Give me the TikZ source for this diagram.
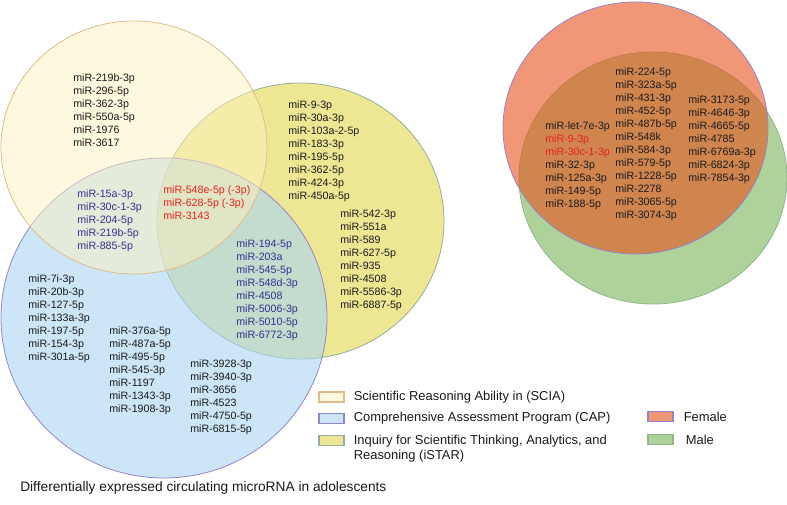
\documentclass[tikz,border=0pt]{standalone}
\usepackage{fontspec}
\setmainfont{Liberation Sans}
\usetikzlibrary{positioning}
\definecolor{sciafill}{HTML}{FDF1BF}
\definecolor{sciadraw}{HTML}{E0BC8A}
\definecolor{capfill}{HTML}{AAD5F3}
\definecolor{capdraw}{HTML}{9484CC}
\definecolor{istarfill}{HTML}{EDE794}
\definecolor{istardraw}{HTML}{93AE9C}
\definecolor{femalefill}{HTML}{E8521E}
\definecolor{femaledraw}{HTML}{9484CC}
\definecolor{malefill}{HTML}{AED39A}
\definecolor{maledraw}{HTML}{92B58A}
\definecolor{mirred}{HTML}{E82020}
\definecolor{mirblue}{HTML}{34308F}
\newcommand*\mirsize{\fontsize{8}{9.75}\selectfont}
\newcommand*\keysize{\fontsize{9.7}{11.25}\selectfont}
\newcommand*\captionsize{\fontsize{10.3}{12}\selectfont}
\newcommand*\redmir[1]{\textcolor{mirred}{#1}}

\begin{document}
\begin{tikzpicture}[x=0.75pt,y=-0.75pt,
		mirlist/.style={anchor=north west,align=left,inner sep=0pt,font=\mirsize,text=black!90},
		keybox/.style={shape=rectangle,minimum width=18.75pt,minimum height=7.5pt,inner sep=0pt,line width=0.8pt},
		keytext/.style={anchor=west,align=left,inner sep=0pt,font=\keysize,text=black!90},
		ring/.style={line width=0.6pt}]
					\useasboundingbox (0,0) rectangle (787,505);
					
					\draw[ring,fill=istarfill,draw=istardraw] (300.5,221) ellipse [x radius=143.5,y radius=138];
					\draw[ring,fill=capfill,fill opacity=0.6,draw=capdraw] (164,318) ellipse [x radius=163,y radius=160];
					\draw[ring,fill=sciafill,fill opacity=0.5,draw=sciadraw] (134,147.5) ellipse [x radius=133,y radius=126.5];
					
					\draw[ring,fill=malefill,draw=maledraw] (653,178) ellipse [x radius=134,y radius=126];
					\draw[ring,fill=femalefill,fill opacity=0.6,draw=femaledraw] (635.5,128) ellipse [x radius=132.5,y radius=126];
					
					\node[mirlist] (sciaonly) at (73,74) {miR-219b-3p\\miR-296-5p\\miR-362-3p\\miR-550a-5p\\miR-1976\\miR-3617};
					\node[mirlist] (istarfirst) at (288,101) {miR-9-3p\\miR-30a-3p\\miR-103a-2-5p\\miR-183-3p\\miR-195-5p\\miR-362-5p\\miR-424-3p\\miR-450a-5p};
					\node[mirlist] (istarsecond) at (340,210) {miR-542-3p\\miR-551a\\miR-589\\miR-627-5p\\miR-935\\miR-4508\\miR-5586-3p\\miR-6887-5p};
					\node[mirlist,text=mirblue] (sciacap) at (77,190) {miR-15a-3p\\miR-30c-1-3p\\miR-204-5p\\miR-219b-5p\\miR-885-5p};
					\node[mirlist,text=mirred] (allthree) at (163,186) {miR-548e-5p (-3p)\\miR-628-5p (-3p)\\miR-3143};
					\node[mirlist,text=mirblue] (capistar) at (236,240) {miR-194-5p\\miR-203a\\miR-545-5p\\miR-548d-3p\\miR-4508\\miR-5006-3p\\miR-5010-5p\\miR-6772-3p};
					\node[mirlist] (capfirst) at (28,275) {miR-7i-3p\\miR-20b-3p\\miR-127-5p\\miR-133a-3p\\miR-197-5p\\miR-154-3p\\miR-301a-5p};
					\node[mirlist] (capsecond) at (109,327) {miR-376a-5p\\miR-487a-5p\\miR-495-5p\\miR-545-3p\\miR-1197\\miR-1343-3p\\miR-1908-3p};
					\node[mirlist] (capthird) at (190,360) {miR-3928-3p\\miR-3940-3p\\miR-3656\\miR-4523\\miR-4750-5p\\miR-6815-5p};
					
					\node[mirlist] (bothfirst) at (545,122) {miR-let-7e-3p\\\redmir{miR-9-3p}\\\redmir{miR-30c-1-3p}\\miR-32-3p\\miR-125a-3p\\miR-149-5p\\miR-188-5p};
					\node[mirlist] (bothsecond) at (615,68) {miR-224-5p\\miR-323a-5p\\miR-431-3p\\miR-452-5p\\miR-487b-5p\\miR-548k\\miR-584-3p\\miR-579-5p\\miR-1228-5p\\miR-2278\\miR-3065-5p\\miR-3074-3p};
					\node[mirlist] (boththird) at (688,96) {miR-3173-5p\\miR-4646-3p\\miR-4665-5p\\miR-4785\\miR-6769a-3p\\miR-6824-3p\\miR-7854-3p};
					
					\node[keybox,fill=sciafill!50!white,draw=sciadraw] (keyscia) at (331.5,397) {};
					\node[keybox,fill=capfill!60!white,draw=capdraw] (keycap) [below=7.9pt of keyscia] {};
					\node[keybox,fill=istarfill,draw=istardraw] (keyistar) [below=7.9pt of keycap] {};
					\node[keytext] (txtscia) [right=6.75pt of keyscia] {Scientific Reasoning Ability in (SCIA)};
					\node[keytext] (txtcap) [right=6.75pt of keycap] {Comprehensive Assessment Program (CAP)};
					\node[keytext,anchor=north west] (txtistar) at ([xshift=6.75pt]keyistar.north east) {Inquiry for Scientific Thinking, Analytics, and\\Reasoning (iSTAR)};
					
					\node[keybox,fill=femalefill!60!white,draw=femaledraw] (keyfemale) at (660.5,416.5) {};
					\node[keybox,fill=malefill,draw=maledraw] (keymale) [below=9pt of keyfemale] {};
					\node[keytext] (txtfemale) [right=7.5pt of keyfemale] {Female};
					\node[keytext] (txtmale) [right=9pt of keymale] {Male};
					
					\node[keytext,font=\captionsize] (caption) at (20,488) {Differentially expressed circulating microRNA in adolescents};
				\end{tikzpicture}
\end{document}
